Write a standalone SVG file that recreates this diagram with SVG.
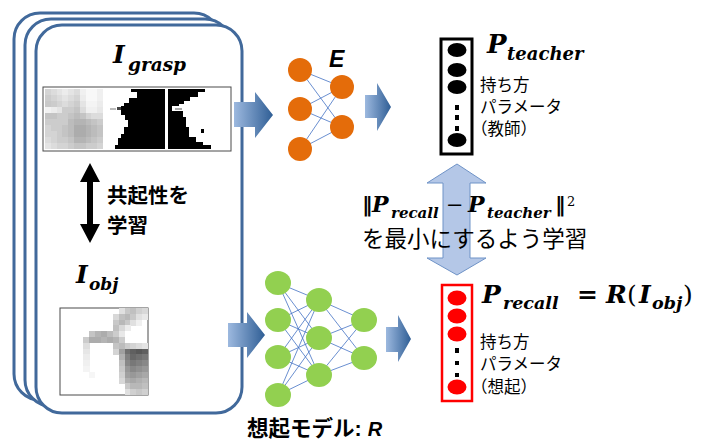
<svg xmlns="http://www.w3.org/2000/svg" width="706" height="441" viewBox="0 0 706 441">
  <defs>
    <linearGradient id="blockGrad" x1="0" y1="0" x2="1" y2="0">
      <stop offset="0" stop-color="#9DB9DF"/>
      <stop offset="1" stop-color="#2F5E95"/>
    </linearGradient>
  </defs>
  <style>
    .card { fill: #fff; stroke: #41699B; stroke-width: 3; }
    .block { fill: url(#blockGrad); }
    .wire { stroke: #4472C4; stroke-width: 0.8; fill: none; }
    .orange { fill: #E46C0A; }
    .green { fill: #92D050; }
    .math { font-family: "DejaVu Serif", "Liberation Serif", serif; font-weight: bold; font-style: italic; fill: #000; }
    .mathr { font-family: "DejaVu Serif", "Liberation Serif", serif; fill: #000; }
    .jp { font-family: "Noto Sans CJK JP", "Noto Sans", sans-serif; fill: #000; }
    .jpb { font-family: "Noto Sans CJK JP", "Noto Sans", sans-serif; font-weight: bold; fill: #000; }
    .frame { fill: #fff; stroke: #4a4a4a; stroke-width: 1; }
  </style>

  <!-- stack of input cards -->
  <g id="cards">
    <rect class="card" x="14" y="13" width="206" height="387" rx="26"/>
    <rect class="card" x="25" y="19" width="206" height="387" rx="26"/>
    <rect class="card" x="36" y="25" width="206" height="388" rx="26"/>
  </g>

  <!-- grasp image strip -->
  <g id="grasp-images">
    <text class="math" x="113" y="63" font-size="25">I</text>
    <text class="math" x="128" y="71" font-size="18.5">grasp</text>
    <rect class="frame" x="43" y="87" width="188" height="64"/>
    <!-- grayscale depth panel -->
    <g transform="translate(45,89) scale(5.8,6)" shape-rendering="crispEdges">
      <rect x="0" y="0" width="10" height="10" fill="#cccccc"/>
      <rect x="0" y="0" width="1.05" height="1.05" fill="#d4d4d4"/><rect x="1" y="0" width="1.05" height="1.05" fill="#dcdcdc"/><rect x="2" y="0" width="1.05" height="1.05" fill="#e4e4e4"/><rect x="3" y="0" width="1.05" height="1.05" fill="#ececec"/><rect x="4" y="0" width="1.05" height="1.05" fill="#e4e4e4"/><rect x="5" y="0" width="1.05" height="1.05" fill="#dcdcdc"/><rect x="6" y="0" width="1.05" height="1.05" fill="#f0f0f0"/><rect x="7" y="0" width="1.05" height="1.05" fill="#f8f8f8"/><rect x="8" y="0" width="1.05" height="1.05" fill="#f8f8f8"/><rect x="9" y="0" width="1" height="1.05" fill="#f0f0f0"/>
      <rect x="0" y="1" width="1.05" height="1.05" fill="#cccccc"/><rect x="1" y="1" width="1.05" height="1.05" fill="#d4d4d4"/><rect x="2" y="1" width="1.05" height="1.05" fill="#dcdcdc"/><rect x="3" y="1" width="1.05" height="1.05" fill="#e4e4e4"/><rect x="4" y="1" width="1.05" height="1.05" fill="#dcdcdc"/><rect x="5" y="1" width="1.05" height="1.05" fill="#d4d4d4"/><rect x="6" y="1" width="1.05" height="1.05" fill="#ececec"/><rect x="7" y="1" width="1.05" height="1.05" fill="#f8f8f8"/><rect x="8" y="1" width="1.05" height="1.05" fill="#f8f8f8"/><rect x="9" y="1" width="1" height="1.05" fill="#f0f0f0"/>
      <rect x="0" y="2" width="1.05" height="1.05" fill="#c8c8c8"/><rect x="1" y="2" width="1.05" height="1.05" fill="#cccccc"/><rect x="2" y="2" width="1.05" height="1.05" fill="#d4d4d4"/><rect x="3" y="2" width="1.05" height="1.05" fill="#dcdcdc"/><rect x="4" y="2" width="1.05" height="1.05" fill="#d4d4d4"/><rect x="5" y="2" width="1.05" height="1.05" fill="#cccccc"/><rect x="6" y="2" width="1.05" height="1.05" fill="#e4e4e4"/><rect x="7" y="2" width="1.05" height="1.05" fill="#f4f4f4"/><rect x="8" y="2" width="1.05" height="1.05" fill="#f4f4f4"/><rect x="9" y="2" width="1" height="1.05" fill="#ececec"/>
      <rect x="0" y="3" width="1.05" height="1.05" fill="#f2f2f2"/><rect x="1" y="3" width="1.05" height="1.05" fill="#ececec"/><rect x="2" y="3" width="1.05" height="1.05" fill="#e4e4e4"/><rect x="3" y="3" width="1.05" height="1.05" fill="#cccccc"/><rect x="4" y="3" width="1.05" height="1.05" fill="#cccccc"/><rect x="5" y="3" width="1.05" height="1.05" fill="#c4c4c4"/><rect x="6" y="3" width="1.05" height="1.05" fill="#dcdcdc"/><rect x="7" y="3" width="1.05" height="1.05" fill="#f0f0f0"/><rect x="8" y="3" width="1.05" height="1.05" fill="#f0f0f0"/><rect x="9" y="3" width="1" height="1.05" fill="#e8e8e8"/>
      <rect x="0" y="4" width="1.05" height="1.05" fill="#c4c4c4"/><rect x="1" y="4" width="1.05" height="1.05" fill="#c4c4c4"/><rect x="2" y="4" width="1.05" height="1.05" fill="#cccccc"/><rect x="3" y="4" width="1.05" height="1.05" fill="#cccccc"/><rect x="4" y="4" width="1.05" height="1.05" fill="#c4c4c4"/><rect x="5" y="4" width="1.05" height="1.05" fill="#bcbcbc"/><rect x="6" y="4" width="1.05" height="1.05" fill="#c4c4c4"/><rect x="7" y="4" width="1.05" height="1.05" fill="#d4d4d4"/><rect x="8" y="4" width="1.05" height="1.05" fill="#dcdcdc"/><rect x="9" y="4" width="1" height="1.05" fill="#dcdcdc"/>
      <rect x="4" y="5" width="1.05" height="1.05" fill="#bcbcbc"/><rect x="5" y="5" width="1.05" height="1.05" fill="#b4b4b4"/><rect x="6" y="5" width="1.05" height="1.05" fill="#b4b4b4"/><rect x="7" y="5" width="1.05" height="1.05" fill="#bcbcbc"/><rect x="8" y="5" width="1.05" height="1.05" fill="#c4c4c4"/>
      <rect x="0" y="6" width="1.05" height="1.05" fill="#d4d4d4"/><rect x="3" y="6" width="1.05" height="1.05" fill="#c4c4c4"/><rect x="4" y="6" width="1.05" height="1.05" fill="#bcbcbc"/><rect x="5" y="6" width="1.05" height="1.05" fill="#acacac"/><rect x="6" y="6" width="1.05" height="1.05" fill="#acacac"/><rect x="7" y="6" width="1.05" height="1.05" fill="#b4b4b4"/><rect x="8" y="6" width="1.05" height="1.05" fill="#bcbcbc"/><rect x="9" y="6" width="1" height="1.05" fill="#c4c4c4"/>
      <rect x="0" y="7" width="1.05" height="1.05" fill="#d4d4d4"/><rect x="1" y="7" width="1.05" height="1.05" fill="#d4d4d4"/><rect x="3" y="7" width="1.05" height="1.05" fill="#c4c4c4"/><rect x="4" y="7" width="1.05" height="1.05" fill="#bcbcbc"/><rect x="5" y="7" width="1.05" height="1.05" fill="#acacac"/><rect x="6" y="7" width="1.05" height="1.05" fill="#acacac"/><rect x="7" y="7" width="1.05" height="1.05" fill="#b4b4b4"/><rect x="8" y="7" width="1.05" height="1.05" fill="#bcbcbc"/><rect x="9" y="7" width="1" height="1.05" fill="#c4c4c4"/>
      <rect x="0" y="8" width="1.05" height="1.05" fill="#dcdcdc"/><rect x="1" y="8" width="1.05" height="1.05" fill="#d4d4d4"/><rect x="4" y="8" width="1.05" height="1.05" fill="#c4c4c4"/><rect x="5" y="8" width="1.05" height="1.05" fill="#b4b4b4"/><rect x="6" y="8" width="1.05" height="1.05" fill="#b4b4b4"/><rect x="7" y="8" width="1.05" height="1.05" fill="#bcbcbc"/><rect x="8" y="8" width="1.05" height="1.05" fill="#c4c4c4"/>
      <rect x="0" y="9" width="1.05" height="1" fill="#e4e4e4"/><rect x="1" y="9" width="1.05" height="1" fill="#dcdcdc"/><rect x="2" y="9" width="1.05" height="1" fill="#d4d4d4"/><rect x="3" y="9" width="1.05" height="1" fill="#d4d4d4"/><rect x="5" y="9" width="1.05" height="1" fill="#c4c4c4"/><rect x="6" y="9" width="1.05" height="1" fill="#c4c4c4"/><rect x="9" y="9" width="1" height="1" fill="#d4d4d4"/>
    </g>
    <!-- binary mask panel: hand region -->
    <rect x="105" y="89" width="60" height="60" fill="#000"/>
    <polygon fill="#fff" points="105,89 131,89 131,92 137,92 137,98 129,98 129,103 124,103 124,106 121,106 121,115 125,115 125,120 128,120 128,127 124,127 124,134 121,134 121,138 118,138 118,145 115,145 115,149 105,149"/>
    <rect x="117" y="107" width="4" height="3" fill="#444"/>
    <rect x="110" y="108" width="6" height="2" fill="#bbb"/>
    <!-- binary mask panel: object region -->
    <rect x="168" y="89" width="61" height="60" fill="#fff"/>
    <polygon fill="#000" points="168,89 205,89 205,92 198,92 198,97 190,97 190,101 184,101 184,104 179,104 179,106 172,106 172,111 183,111 183,117 186,117 186,127 189,127 189,137 196,137 196,142 203,142 203,145 211,145 211,149 168,149"/>
    <rect x="201" y="129" width="3" height="4" fill="#000"/>
    <rect x="175" y="108" width="7" height="2" fill="#aaa"/>
  </g>

  <!-- co-occurrence arrow and label -->
  <g id="cooccurrence">
    <polygon fill="#000" points="90,163 100,182 93,182 93,224 100,224 90,243 80,224 87,224 87,182 80,182"/>
    <text class="jpb" x="107" y="203" font-size="20.5">共起性を</text>
    <text class="jpb" x="107" y="233" font-size="20.5">学習</text>
  </g>

  <!-- object image -->
  <g id="object-image">
    <text class="math" x="76" y="283" font-size="25">I</text>
    <text class="math" x="89" y="290" font-size="17">obj</text>
    <rect class="frame" x="60" y="308" width="88" height="87"/>
    <g transform="translate(60,308) scale(5.867,5.8)" shape-rendering="crispEdges">
      <rect x="10" y="0" width="1.05" height="1.05" fill="#e0e0e0"/><rect x="11" y="0" width="1.05" height="1.05" fill="#c8c8c8"/><rect x="12" y="0" width="1.05" height="1.05" fill="#c0c0c0"/><rect x="13" y="0" width="1.05" height="1.05" fill="#d0d0d0"/><rect x="14" y="0" width="1" height="1.05" fill="#d8d8d8"/>
      <rect x="9" y="1" width="1.05" height="1.05" fill="#d8d8d8"/><rect x="10" y="1" width="1.05" height="1.05" fill="#c0c0c0"/><rect x="11" y="1" width="1.05" height="1.05" fill="#b8b8b8"/><rect x="12" y="1" width="1.05" height="1.05" fill="#c8c8c8"/><rect x="13" y="1" width="1.05" height="1.05" fill="#e0e0e0"/><rect x="14" y="1" width="1" height="1.05" fill="#e8e8e8"/>
      <rect x="9" y="2" width="1.05" height="1.05" fill="#c8c8c8"/><rect x="10" y="2" width="1.05" height="1.05" fill="#b8b8b8"/><rect x="11" y="2" width="1.05" height="1.05" fill="#c8c8c8"/><rect x="12" y="2" width="1.05" height="1.05" fill="#e0e0e0"/><rect x="13" y="2" width="1.05" height="1.05" fill="#f0f0f0"/>
      <rect x="9" y="3" width="1.05" height="1.05" fill="#c0c0c0"/><rect x="10" y="3" width="1.05" height="1.05" fill="#d8d8d8"/><rect x="11" y="3" width="1.05" height="1.05" fill="#ececec"/>
      <rect x="5" y="4" width="1.05" height="1.05" fill="#c4c4c4"/><rect x="6" y="4" width="1.05" height="1.05" fill="#b4b4b4"/><rect x="7" y="4" width="1.05" height="1.05" fill="#acacac"/><rect x="8" y="4" width="1.05" height="1.05" fill="#bcbcbc"/><rect x="9" y="4" width="1.05" height="1.05" fill="#cccccc"/><rect x="10" y="4" width="1.05" height="1.05" fill="#e8e8e8"/>
      <rect x="4" y="5" width="1.05" height="1.05" fill="#cccccc"/><rect x="5" y="5" width="1.05" height="1.05" fill="#acacac"/><rect x="6" y="5" width="1.05" height="1.05" fill="#acacac"/><rect x="7" y="5" width="1.05" height="1.05" fill="#b4b4b4"/><rect x="8" y="5" width="1.05" height="1.05" fill="#acacac"/><rect x="9" y="5" width="1.05" height="1.05" fill="#b4b4b4"/><rect x="10" y="5" width="1.05" height="1.05" fill="#cccccc"/>
      <rect x="4" y="6" width="1.05" height="1.05" fill="#dedede"/><rect x="9" y="6" width="1.05" height="1.05" fill="#c4c4c4"/><rect x="10" y="6" width="1.05" height="1.05" fill="#bcbcbc"/><rect x="11" y="6" width="1.05" height="1.05" fill="#cccccc"/><rect x="12" y="6" width="1.05" height="1.05" fill="#d4d4d4"/><rect x="13" y="6" width="1.05" height="1.05" fill="#dcdcdc"/><rect x="14" y="6" width="1" height="1.05" fill="#e4e4e4"/>
      <rect x="4" y="7" width="1.05" height="1.05" fill="#e6e6e6"/><rect x="9" y="7" width="1.05" height="1.05" fill="#d4d4d4"/><rect x="10" y="7" width="1.05" height="1.05" fill="#a0a0a0"/><rect x="11" y="7" width="1.05" height="1.05" fill="#707070"/><rect x="12" y="7" width="1.05" height="1.05" fill="#606060"/><rect x="13" y="7" width="1.05" height="1.05" fill="#585858"/><rect x="14" y="7" width="1" height="1.05" fill="#606060"/>
      <rect x="4" y="8" width="1.05" height="1.05" fill="#ececec"/><rect x="10" y="8" width="1.05" height="1.05" fill="#b0b0b0"/><rect x="11" y="8" width="1.05" height="1.05" fill="#808080"/><rect x="12" y="8" width="1.05" height="1.05" fill="#686868"/><rect x="13" y="8" width="1.05" height="1.05" fill="#707070"/><rect x="14" y="8" width="1" height="1.05" fill="#787878"/>
      <rect x="4" y="9" width="1.05" height="1.05" fill="#f0f0f0"/><rect x="10" y="9" width="1.05" height="1.05" fill="#c0c0c0"/><rect x="11" y="9" width="1.05" height="1.05" fill="#888888"/><rect x="12" y="9" width="1.05" height="1.05" fill="#787878"/><rect x="13" y="9" width="1.05" height="1.05" fill="#808080"/><rect x="14" y="9" width="1" height="1.05" fill="#888888"/>
      <rect x="4" y="10" width="1.05" height="1.05" fill="#f4f4f4"/><rect x="10" y="10" width="1.05" height="1.05" fill="#c8c8c8"/><rect x="11" y="10" width="1.05" height="1.05" fill="#989898"/><rect x="12" y="10" width="1.05" height="1.05" fill="#888888"/><rect x="13" y="10" width="1.05" height="1.05" fill="#909090"/><rect x="14" y="10" width="1" height="1.05" fill="#989898"/>
      <rect x="5" y="11" width="1.05" height="1.05" fill="#f6f6f6"/><rect x="10" y="11" width="1.05" height="1.05" fill="#d0d0d0"/><rect x="11" y="11" width="1.05" height="1.05" fill="#a0a0a0"/><rect x="12" y="11" width="1.05" height="1.05" fill="#989898"/><rect x="13" y="11" width="1.05" height="1.05" fill="#a0a0a0"/><rect x="14" y="11" width="1" height="1.05" fill="#a8a8a8"/>
      <rect x="10" y="12" width="1.05" height="1.05" fill="#d8d8d8"/><rect x="11" y="12" width="1.05" height="1.05" fill="#b0b0b0"/><rect x="12" y="12" width="1.05" height="1.05" fill="#a8a8a8"/><rect x="13" y="12" width="1.05" height="1.05" fill="#b0b0b0"/><rect x="14" y="12" width="1" height="1.05" fill="#b8b8b8"/>
      <rect x="11" y="13" width="1.05" height="1.05" fill="#c8c8c8"/><rect x="12" y="13" width="1.05" height="1.05" fill="#b8b8b8"/><rect x="13" y="13" width="1.05" height="1.05" fill="#b8b8b8"/><rect x="14" y="13" width="1" height="1.05" fill="#c0c0c0"/>
      <rect x="11" y="14" width="1.05" height="1" fill="#e0e0e0"/><rect x="12" y="14" width="1.05" height="1" fill="#d0d0d0"/><rect x="13" y="14" width="1.05" height="1" fill="#c8c8c8"/><rect x="14" y="14" width="1" height="1" fill="#d0d0d0"/>
    </g>
  </g>

  <!-- connectors: block arrows, network weights, loss arrow -->
  <g id="connectors">
    <polygon class="block" points="234,102 255,102 255,92 273,115 255,138 255,127 234,127"/>
    <polygon class="block" points="365,95 377,95 377,83 391,107 377,131 377,118 365,118"/>
    <polygon class="block" points="228,323 247,323 247,312 265,335 247,358 247,347 228,347"/>
    <polygon class="block" points="386,327 398,327 398,315 411,339 398,362 398,352 386,352"/>

    <g class="wire">
      <line x1="300" y1="70" x2="342" y2="87"/><line x1="300" y1="70" x2="342" y2="127"/>
      <line x1="300" y1="109" x2="342" y2="87"/><line x1="300" y1="109" x2="342" y2="127"/>
      <line x1="300" y1="149" x2="342" y2="87"/><line x1="300" y1="149" x2="342" y2="127"/>
    </g>
    <g class="wire">
      <line x1="278" y1="283" x2="319" y2="300"/><line x1="278" y1="283" x2="319" y2="338"/><line x1="278" y1="283" x2="319" y2="375"/>
      <line x1="278" y1="320" x2="319" y2="300"/><line x1="278" y1="320" x2="319" y2="338"/><line x1="278" y1="320" x2="319" y2="375"/>
      <line x1="278" y1="357" x2="319" y2="300"/><line x1="278" y1="357" x2="319" y2="338"/><line x1="278" y1="357" x2="319" y2="375"/>
      <line x1="278" y1="395" x2="319" y2="300"/><line x1="278" y1="395" x2="319" y2="338"/><line x1="278" y1="395" x2="319" y2="375"/>
      <line x1="319" y1="300" x2="364" y2="320"/><line x1="319" y1="300" x2="364" y2="358"/>
      <line x1="319" y1="338" x2="364" y2="320"/><line x1="319" y1="338" x2="364" y2="358"/>
      <line x1="319" y1="375" x2="364" y2="320"/><line x1="319" y1="375" x2="364" y2="358"/>
    </g>

    <polygon fill="#B4C7E7" stroke="#6F93C7" stroke-width="1" points="457,164 486,183 470,183 470,258 486,258 457,275 427,258 443,258 443,183 427,183"/>
  </g>

  <!-- encoder E -->
  <g id="encoder">
    <circle class="orange" cx="300" cy="70" r="12"/>
    <circle class="orange" cx="300" cy="109" r="12"/>
    <circle class="orange" cx="300" cy="149" r="12"/>
    <circle class="orange" cx="342" cy="87" r="12"/>
    <circle class="orange" cx="342" cy="127" r="12"/>
    <text x="329" y="67" font-family="Liberation Sans, Arial, sans-serif" font-weight="bold" font-style="italic" font-size="23">E</text>
  </g>

  <!-- recall model R -->
  <g id="recall-model">
    <ellipse class="green" cx="278" cy="283" rx="13" ry="12"/>
    <ellipse class="green" cx="278" cy="320" rx="13" ry="12"/>
    <ellipse class="green" cx="278" cy="357" rx="13" ry="12"/>
    <ellipse class="green" cx="278" cy="395" rx="13" ry="12"/>
    <ellipse class="green" cx="319" cy="300" rx="13" ry="12"/>
    <ellipse class="green" cx="319" cy="338" rx="13" ry="12"/>
    <ellipse class="green" cx="319" cy="375" rx="13" ry="12"/>
    <ellipse class="green" cx="364" cy="320" rx="13" ry="12"/>
    <ellipse class="green" cx="364" cy="358" rx="13" ry="12"/>
    <text x="247" y="436" font-size="21.5"><tspan class="jpb">想起モデル</tspan><tspan font-family="Liberation Sans, Arial, sans-serif" font-weight="bold">: </tspan><tspan font-family="Liberation Sans, Arial, sans-serif" font-weight="bold" font-style="italic" font-size="20">R</tspan></text>
  </g>

  <!-- teacher grasp parameters -->
  <g id="teacher-params">
    <rect x="441" y="39" width="31" height="115" fill="#fff" stroke="#000" stroke-width="3"/>
    <ellipse cx="457" cy="50" rx="9.5" ry="7"/>
    <ellipse cx="457" cy="70" rx="9.5" ry="7"/>
    <ellipse cx="457" cy="87" rx="9.5" ry="7"/>
    <rect x="455" y="105" width="4" height="5"/>
    <rect x="455" y="115" width="4" height="5"/>
    <rect x="455" y="126" width="4" height="5"/>
    <ellipse cx="457" cy="140" rx="9.5" ry="7"/>
    <text class="math" x="487" y="53" font-size="26">P</text>
    <text class="math" x="507" y="60" font-size="18">teacher</text>
    <text class="jp" x="480" y="91" font-size="16.5">持ち方</text>
    <text class="jp" x="480" y="113" font-size="16.5">パラメータ</text>
    <text class="jp" x="471" y="135" font-size="16.5">（教師）</text>
  </g>

  <!-- loss term -->
  <g id="loss">
    <text class="mathr" x="362" y="212" font-size="21" font-weight="bold">‖</text>
    <text class="math" x="372" y="212" font-size="22">P</text>
    <text class="math" x="391" y="218" font-size="15">recall</text>
    <text class="mathr" x="446" y="212" font-size="21">−</text>
    <text class="math" x="468" y="212" font-size="22">P</text>
    <text class="math" x="487" y="218" font-size="15">teacher</text>
    <text class="mathr" x="555" y="212" font-size="21" font-weight="bold">‖</text>
    <text class="mathr" x="567" y="206" font-size="13">2</text>
    <text class="jp" x="362" y="247" font-size="22.5">を最小にするよう学習</text>
  </g>

  <!-- recalled grasp parameters -->
  <g id="recall-params">
    <rect x="442" y="285" width="30" height="116" fill="#fff" stroke="#FF0000" stroke-width="2.5"/>
    <ellipse cx="457" cy="298" rx="9.5" ry="7.5" fill="#FF0000"/>
    <ellipse cx="457" cy="316" rx="9.5" ry="7.5" fill="#FF0000"/>
    <ellipse cx="457" cy="334" rx="9.5" ry="7.5" fill="#FF0000"/>
    <rect x="455" y="348" width="4" height="5"/>
    <rect x="455" y="361" width="4" height="4"/>
    <rect x="455" y="373" width="4" height="4"/>
    <ellipse cx="457" cy="387" rx="9.5" ry="7.5" fill="#FF0000"/>
    <text class="math" x="482" y="303" font-size="25">P</text>
    <text class="math" x="503" y="309" font-size="17.5">recall</text>
    <text class="mathr" x="577" y="303" font-size="25" font-weight="bold">=</text>
    <text class="math" x="606" y="303" font-size="25">R</text>
    <text class="mathr" x="627" y="303" font-size="25">(</text>
    <text class="math" x="639" y="303" font-size="25">I</text>
    <text class="math" x="652" y="309" font-size="17.5">obj</text>
    <text class="mathr" x="683" y="303" font-size="25">)</text>
    <text class="jp" x="480" y="348" font-size="16.5">持ち方</text>
    <text class="jp" x="480" y="370" font-size="16.5">パラメータ</text>
    <text class="jp" x="471" y="393" font-size="16.5">（想起）</text>
  </g>
</svg>
